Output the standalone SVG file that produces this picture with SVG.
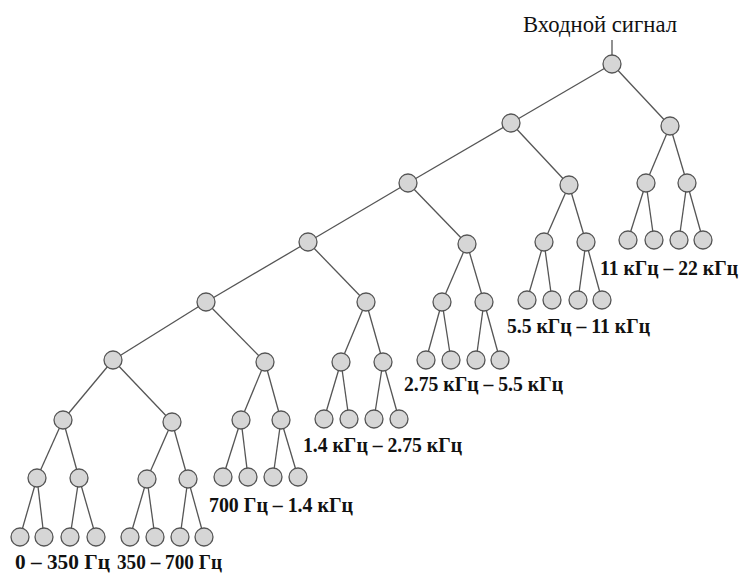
<svg xmlns="http://www.w3.org/2000/svg" width="740" height="575" viewBox="0 0 740 575">
<style>
.e{stroke:#555;stroke-width:1.3;fill:none}
.n{fill:#d6d6d6;stroke:#555;stroke-width:1.3}
.lb{font-family:"Liberation Serif","Times New Roman",serif;font-weight:bold;font-size:20px;fill:#111}
.tt{font-family:"Liberation Serif","Times New Roman",serif;font-size:23px;fill:#111}
</style>
<rect width="740" height="575" fill="#fff"/>
<g id="connectors">
<line class="e" x1="612" y1="40" x2="612" y2="64"/>
<line class="e" x1="612" y1="64" x2="511" y2="123"/>
<line class="e" x1="612" y1="64" x2="670" y2="126"/>
<line class="e" x1="511" y1="123" x2="408" y2="183"/>
<line class="e" x1="511" y1="123" x2="569" y2="185"/>
<line class="e" x1="670" y1="126" x2="646" y2="183"/>
<line class="e" x1="670" y1="126" x2="687" y2="183"/>
<line class="e" x1="646" y1="183" x2="628" y2="240"/>
<line class="e" x1="646" y1="183" x2="654" y2="240"/>
<line class="e" x1="687" y1="183" x2="679" y2="240"/>
<line class="e" x1="687" y1="183" x2="703" y2="240"/>
<line class="e" x1="569" y1="185" x2="544" y2="242"/>
<line class="e" x1="569" y1="185" x2="586" y2="242"/>
<line class="e" x1="544" y1="242" x2="527" y2="300"/>
<line class="e" x1="544" y1="242" x2="552" y2="300"/>
<line class="e" x1="586" y1="242" x2="578" y2="300"/>
<line class="e" x1="586" y1="242" x2="602" y2="300"/>
<line class="e" x1="408" y1="183" x2="308" y2="242"/>
<line class="e" x1="408" y1="183" x2="467" y2="244"/>
<line class="e" x1="467" y1="244" x2="442" y2="302"/>
<line class="e" x1="467" y1="244" x2="484" y2="302"/>
<line class="e" x1="442" y1="302" x2="426" y2="360"/>
<line class="e" x1="442" y1="302" x2="451" y2="360"/>
<line class="e" x1="484" y1="302" x2="476" y2="360"/>
<line class="e" x1="484" y1="302" x2="500" y2="360"/>
<line class="e" x1="308" y1="242" x2="206" y2="302"/>
<line class="e" x1="308" y1="242" x2="366" y2="302"/>
<line class="e" x1="366" y1="302" x2="341" y2="362"/>
<line class="e" x1="366" y1="302" x2="383" y2="362"/>
<line class="e" x1="341" y1="362" x2="324" y2="419"/>
<line class="e" x1="341" y1="362" x2="349" y2="419"/>
<line class="e" x1="383" y1="362" x2="374" y2="419"/>
<line class="e" x1="383" y1="362" x2="399" y2="419"/>
<line class="e" x1="206" y1="302" x2="113" y2="360"/>
<line class="e" x1="206" y1="302" x2="265" y2="362"/>
<line class="e" x1="265" y1="362" x2="241" y2="420"/>
<line class="e" x1="265" y1="362" x2="281" y2="420"/>
<line class="e" x1="241" y1="420" x2="223" y2="477"/>
<line class="e" x1="241" y1="420" x2="248" y2="477"/>
<line class="e" x1="281" y1="420" x2="273" y2="477"/>
<line class="e" x1="281" y1="420" x2="298" y2="477"/>
<line class="e" x1="113" y1="360" x2="63" y2="420"/>
<line class="e" x1="113" y1="360" x2="172" y2="422"/>
<line class="e" x1="63" y1="420" x2="37" y2="478"/>
<line class="e" x1="63" y1="420" x2="79" y2="478"/>
<line class="e" x1="172" y1="422" x2="147" y2="479"/>
<line class="e" x1="172" y1="422" x2="188" y2="479"/>
<line class="e" x1="37" y1="478" x2="20" y2="537"/>
<line class="e" x1="37" y1="478" x2="44" y2="537"/>
<line class="e" x1="79" y1="478" x2="70" y2="537"/>
<line class="e" x1="79" y1="478" x2="96" y2="537"/>
<line class="e" x1="147" y1="479" x2="130" y2="537"/>
<line class="e" x1="147" y1="479" x2="155" y2="537"/>
<line class="e" x1="188" y1="479" x2="180" y2="537"/>
<line class="e" x1="188" y1="479" x2="204" y2="537"/>
</g>
<g id="nodes">
<g id="root"><circle class="n" cx="612" cy="64" r="9"/></g>
<g id="n1"><circle class="n" cx="511" cy="123" r="9"/></g>
<g id="n2"><circle class="n" cx="670" cy="126" r="9"/></g>
<g id="n3"><circle class="n" cx="408" cy="183" r="9"/></g>
<g id="n4"><circle class="n" cx="569" cy="185" r="9"/></g>
<g id="n5"><circle class="n" cx="646" cy="183" r="9"/></g>
<g id="n6"><circle class="n" cx="687" cy="183" r="9"/></g>
<g id="l11a"><circle class="n" cx="628" cy="240" r="9"/></g>
<g id="l11b"><circle class="n" cx="654" cy="240" r="9"/></g>
<g id="l11c"><circle class="n" cx="679" cy="240" r="9"/></g>
<g id="l11d"><circle class="n" cx="703" cy="240" r="9"/></g>
<g id="n7"><circle class="n" cx="544" cy="242" r="9"/></g>
<g id="n8"><circle class="n" cx="586" cy="242" r="9"/></g>
<g id="l55a"><circle class="n" cx="527" cy="300" r="9"/></g>
<g id="l55b"><circle class="n" cx="552" cy="300" r="9"/></g>
<g id="l55c"><circle class="n" cx="578" cy="300" r="9"/></g>
<g id="l55d"><circle class="n" cx="602" cy="300" r="9"/></g>
<g id="n9"><circle class="n" cx="308" cy="242" r="9"/></g>
<g id="n10"><circle class="n" cx="467" cy="244" r="9"/></g>
<g id="n11"><circle class="n" cx="442" cy="302" r="9"/></g>
<g id="n12"><circle class="n" cx="484" cy="302" r="9"/></g>
<g id="l275a"><circle class="n" cx="426" cy="360" r="9"/></g>
<g id="l275b"><circle class="n" cx="451" cy="360" r="9"/></g>
<g id="l275c"><circle class="n" cx="476" cy="360" r="9"/></g>
<g id="l275d"><circle class="n" cx="500" cy="360" r="9"/></g>
<g id="n13"><circle class="n" cx="206" cy="302" r="9"/></g>
<g id="n14"><circle class="n" cx="366" cy="302" r="9"/></g>
<g id="n15"><circle class="n" cx="341" cy="362" r="9"/></g>
<g id="n16"><circle class="n" cx="383" cy="362" r="9"/></g>
<g id="l14a"><circle class="n" cx="324" cy="419" r="9"/></g>
<g id="l14b"><circle class="n" cx="349" cy="419" r="9"/></g>
<g id="l14c"><circle class="n" cx="374" cy="419" r="9"/></g>
<g id="l14d"><circle class="n" cx="399" cy="419" r="9"/></g>
<g id="n17"><circle class="n" cx="113" cy="360" r="9"/></g>
<g id="n18"><circle class="n" cx="265" cy="362" r="9"/></g>
<g id="n19"><circle class="n" cx="241" cy="420" r="9"/></g>
<g id="n20"><circle class="n" cx="281" cy="420" r="9"/></g>
<g id="l700a"><circle class="n" cx="223" cy="477" r="9"/></g>
<g id="l700b"><circle class="n" cx="248" cy="477" r="9"/></g>
<g id="l700c"><circle class="n" cx="273" cy="477" r="9"/></g>
<g id="l700d"><circle class="n" cx="298" cy="477" r="9"/></g>
<g id="n21"><circle class="n" cx="63" cy="420" r="9"/></g>
<g id="n22"><circle class="n" cx="172" cy="422" r="9"/></g>
<g id="n23"><circle class="n" cx="37" cy="478" r="9"/></g>
<g id="n24"><circle class="n" cx="79" cy="478" r="9"/></g>
<g id="n25"><circle class="n" cx="147" cy="479" r="9"/></g>
<g id="n26"><circle class="n" cx="188" cy="479" r="9"/></g>
<g id="l0a"><circle class="n" cx="20" cy="537" r="9"/></g>
<g id="l0b"><circle class="n" cx="44" cy="537" r="9"/></g>
<g id="l0c"><circle class="n" cx="70" cy="537" r="9"/></g>
<g id="l0d"><circle class="n" cx="96" cy="537" r="9"/></g>
<g id="l350a"><circle class="n" cx="130" cy="537" r="9"/></g>
<g id="l350b"><circle class="n" cx="155" cy="537" r="9"/></g>
<g id="l350c"><circle class="n" cx="180" cy="537" r="9"/></g>
<g id="l350d"><circle class="n" cx="204" cy="537" r="9"/></g>
</g>
<g id="labels">
<text class="tt" x="523" y="32" textLength="154" lengthAdjust="spacingAndGlyphs">Входной сигнал</text>
<text class="lb" x="15" y="569" textLength="95" lengthAdjust="spacingAndGlyphs">0 – 350 Гц</text>
<text class="lb" x="117" y="569" textLength="105" lengthAdjust="spacingAndGlyphs">350 – 700 Гц</text>
<text class="lb" x="209" y="512" textLength="144" lengthAdjust="spacingAndGlyphs">700 Гц – 1.4 кГц</text>
<text class="lb" x="303" y="452" textLength="159" lengthAdjust="spacingAndGlyphs">1.4 кГц – 2.75 кГц</text>
<text class="lb" x="404" y="391" textLength="159" lengthAdjust="spacingAndGlyphs">2.75 кГц – 5.5 кГц</text>
<text class="lb" x="507" y="333" textLength="143" lengthAdjust="spacingAndGlyphs">5.5 кГц – 11 кГц</text>
<text class="lb" x="600" y="275" textLength="138" lengthAdjust="spacingAndGlyphs">11 кГц – 22 кГц</text>
</g>
</svg>
